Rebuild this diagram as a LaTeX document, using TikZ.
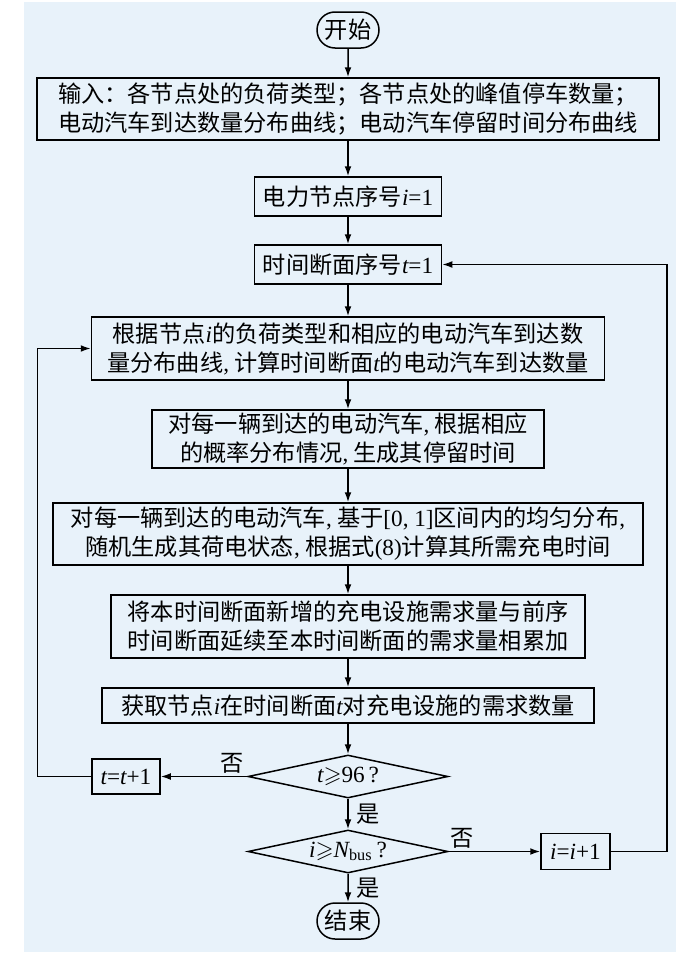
\documentclass[tikz,border=0pt]{standalone}
\usepackage{amssymb}
\usepackage{fontspec}
\setmainfont{Liberation Serif}
\newfontfamily\cjk{Noto Sans CJK SC}
\usetikzlibrary{shapes.geometric}
\usetikzlibrary{shapes.misc}
\usetikzlibrary{arrows.meta}
\definecolor{bgblue}{RGB}{232,242,250}
\newcommand\var[1]{{\rmfamily\itshape #1}}
\newcommand\en[1]{{\rmfamily #1}}

\begin{document}
\begin{tikzpicture}[x=0.5pt, y=-0.5pt,
    box/.style={draw, fill=bgblue, line width=0.75pt, inner sep=0pt, align=center,
        font=\cjk\fontsize{11.6}{14.5}\selectfont},
    term/.style={box, rounded rectangle, minimum width=31pt, minimum height=18pt},
    decide/.style={box, diamond, aspect=4.65, minimum width=100pt, minimum height=21.5pt},
    lbl/.style={font=\cjk\fontsize{11.6}{14.5}\selectfont, inner sep=1pt},
    flow/.style={line width=0.75pt, -{Latex[length=5pt, width=3.4pt]}}]
    \useasboundingbox (0,0) rectangle (700,953);
    \fill[bgblue] (24,2) rectangle (676,952);
    % main column
    \node[term] (start) at (348,30) {开始};
    \node[box, minimum width=311pt, minimum height=31pt] (input) at (348,109)
        {输入：各节点处的负荷类型；各节点处的峰值停车数量；\\电动汽车到达数量分布曲线；电动汽车停留时间分布曲线};
    \node[box, minimum width=93.5pt, minimum height=19.5pt] (nodeid) at (348,196.5)
        {电力节点序号\var{i}\en{=1}};
    \node[box, minimum width=93.5pt, minimum height=19.5pt] (timeid) at (348,264.5)
        {时间断面序号\var{t}\en{=1}};
    \node[box, minimum width=256.5pt, minimum height=31.5pt] (arrive) at (348,348.5)
        {根据节点\var{i}的负荷类型和相应的电动汽车到达数\\量分布曲线\en{,} 计算时间断面\var{t}的电动汽车到达数量};
    \node[box, minimum width=196pt, minimum height=29pt] (park) at (348,439)
        {对每一辆到达的电动汽车\en{,} 根据相应\\的概率分布情况\en{,} 生成其停留时间};
    \node[box, minimum width=295pt, minimum height=31pt] (soc) at (348,534)
        {对每一辆到达的电动汽车\en{,} 基于\en{[0, 1]}区间内的均匀分布\en{,}\\随机生成其荷电状态\en{,} 根据式\en{(8)}计算其所需充电时间};
    \node[box, minimum width=237pt, minimum height=31.5pt] (accum) at (348,626.5)
        {将本时间断面新增的充电设施需求量与前序\\时间断面延续至本时间断面的需求量相累加};
    \node[box, minimum width=246pt, minimum height=17.5pt] (demand) at (348,705.5)
        {获取节点\var{i}在时间断面\var{t}对充电设施的需求数量};
    \node[decide] (tchk) at (348,776.5) {\var{t}$\geqslant$\en{96\,?}};
    \node[decide] (ichk) at (348,851.5) {\var{i}$\geqslant$\var{N}\textsubscript{\en{bus}}\en{\,?}};
    \node[term] (stop) at (348,921) {结束};
    % side boxes
    \node[box, minimum width=34pt, minimum height=17.5pt] (tnext) at (126,776.5)
        {\var{t}\en{=}\var{t}\en{+1}};
    \node[box, minimum width=34.5pt, minimum height=18pt] (inext) at (575.5,851.5)
        {\var{i}\en{=}\var{i}\en{+1}};
    % connectors
    \draw[flow] (start) -- (input);
    \draw[flow] (input) -- (nodeid);
    \draw[flow] (nodeid) -- (timeid);
    \draw[flow] (timeid) -- (arrive);
    \draw[flow] (arrive) -- (park);
    \draw[flow] (park) -- (soc);
    \draw[flow] (soc) -- (accum);
    \draw[flow] (accum) -- (demand);
    \draw[flow] (demand) -- (tchk);
    \draw[flow] (tchk) -- node[lbl, right, xshift=3pt] {是} (ichk);
    \draw[flow] (ichk) -- node[lbl, right, xshift=3pt] {是} (stop);
    \draw[flow] (tchk.west) -- node[lbl, above, pos=0.17] {否} (tnext.east);
    \draw[flow] (ichk.east) -- node[lbl, above, pos=0.15] {否} (inext.west);
    \draw[flow] (tnext.west) -- ++(-54,0) |- (arrive.west);
    \draw[flow] (inext.east) -- ++(56,0) |- (timeid.east);
\end{tikzpicture}
\end{document}
